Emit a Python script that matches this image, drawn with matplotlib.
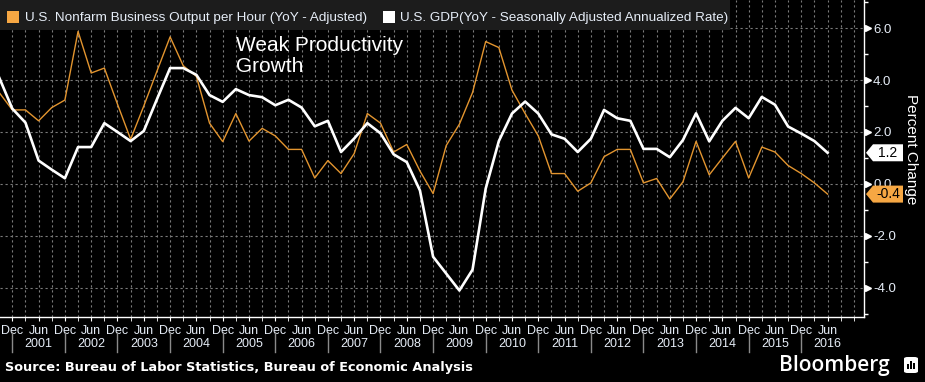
import numpy as np
import matplotlib
matplotlib.use("Agg")
import matplotlib.pyplot as plt
from matplotlib.patches import Rectangle, Polygon, FancyBboxPatch
from matplotlib.transforms import blended_transform_factory, IdentityTransform

# ---------------- data (quarterly, Sep 2000 .. Jun 2016) ----------------
quarters = [f"{y}Q{q}" for y in range(2000, 2017) for q in range(1, 5)][2:-2]
productivity = [3.52, 2.85, 2.85, 2.43, 2.94, 3.23, 5.87, 4.27, 4.46, 3.07,
                1.72, 3.00, 4.34, 5.66, 4.55, 4.14, 2.34, 1.63, 2.71, 1.65,
                2.14, 1.85, 1.33, 1.33, 0.23, 0.90, 0.40, 1.17, 2.71, 2.34,
                1.23, 1.52, 0.50, -0.37, 1.48, 2.30, 3.52, 5.48, 5.25, 3.61,
                2.71, 1.85, 0.40, 0.40, -0.28, 0.04, 1.05, 1.33, 1.33, 0.04,
                0.21, -0.58, 0.08, 1.64, 0.35, 1.00, 1.64, 0.23, 1.42, 1.23,
                0.71, 0.40, 0.04, -0.39]
gdp = [4.10, 2.90, 2.36, 0.90, 0.55, 0.22, 1.42, 1.42, 2.34, 2.00,
       1.65, 2.04, 3.26, 4.46, 4.46, 4.20, 3.42, 3.16, 3.65, 3.42,
       3.34, 3.03, 3.24, 2.94, 2.22, 2.43, 1.23, 1.75, 2.34, 1.95,
       1.14, 0.84, -0.25, -2.80, -3.45, -4.10, -3.30, -0.18, 1.65, 2.71,
       3.17, 2.71, 1.91, 1.74, 1.23, 1.74, 2.85, 2.53, 2.43, 1.35,
       1.35, 1.03, 1.69, 2.72, 1.64, 2.43, 2.93, 2.53, 3.35, 3.05,
       2.21, 1.94, 1.65, 1.20]
month_labels = ["Dec", "Jun"]
years = list(range(2001, 2017))
yticks = [-4.0, -2.0, 0.0, 2.0, 4.0, 6.0]
legend_labels = ["U.S. Nonfarm Business Output per Hour (YoY - Adjusted)",
                 "U.S. GDP(YoY - Seasonally Adjusted Annualized Rate)"]
source = "Source: Bureau of Labor Statistics, Bureau of Economic Analysis"

ORANGE_LINE = "#e3952f"
ORANGE = "#f6a743"
TXT = "#e6edf7"
GRID = "#7a7a7a"

# x index: 0 = Dec 2000
x = np.arange(len(quarters)) - 1

W, H = 925, 382
fig = plt.figure(figsize=(W / 100, H / 100), dpi=100, facecolor="black")
ax = fig.add_axes([0, 1 - 317 / H, 864 / W, 317 / H])
ax.set_facecolor("black")
ax.set_xlim(-0.935, 64.77)
ax.set_ylim(-5.12, 7.08)

# grid
for q in range(0, 65):
    ax.axvline(q, color=GRID, lw=0.8, ls=(0, (2, 2.5)), zorder=1)
for v in yticks:
    ax.axhline(v, color=GRID, lw=0.8, ls=(0, (2, 2.5)), zorder=1)

ax.plot(x, productivity, color=ORANGE_LINE, lw=1.0, zorder=3)
ax.plot(x, gdp, color="white", lw=1.9, zorder=4)

# spines
for s in ["left", "top"]:
    ax.spines[s].set_visible(False)
for s in ["right", "bottom"]:
    ax.spines[s].set_color("white")
    ax.spines[s].set_linewidth(1.0)

# y axis on right
ax.yaxis.tick_right()
ax.set_yticks(yticks)
ax.set_yticklabels([f"{v:.1f}" for v in yticks])
ax.set_yticks(np.arange(-5, 8, 1.0), minor=True)
ax.tick_params(axis="y", which="major", length=0, pad=6.5, labelsize=9.5,
               labelcolor=TXT)
ax.tick_params(axis="y", which="minor", length=3, width=1, color="white",
               direction="out")
for lab in ax.get_yticklabels():
    lab.set_fontfamily("Liberation Sans")
tri_t = blended_transform_factory(ax.transAxes, ax.transData)
ax.plot([1.0045] * len(yticks), yticks, ls="", marker=">", ms=5,
        color="white", transform=tri_t, clip_on=False, zorder=6)

ax.text(1.0 + 47 / 864, 0.53, "Percent Change", rotation=270,
        transform=ax.transAxes, ha="center", va="center", color="white",
        fontsize=11, family="Liberation Sans")

# x axis
ax.set_xticks(np.arange(0, 63, 2))
ax.set_xticklabels([month_labels[i % 2] for i in range(32)])
ax.set_xticks(np.arange(0, 65, 1), minor=True)
ax.tick_params(axis="x", which="both", length=3, color="white", pad=3,
               labelsize=9, labelcolor=TXT)
for lab in ax.get_xticklabels():
    lab.set_fontfamily("Liberation Sans")

bt = blended_transform_factory(ax.transData, ax.transAxes)
for k, yr in enumerate(years):
    ax.text(2 + 4 * k, -27 / 317, str(yr), transform=bt, ha="center",
            va="center", color=TXT, fontsize=9, family="Liberation Sans")
for k in range(len(years)):
    ax.plot([4 * k, 4 * k], [-15 / 317, -35 / 317], transform=bt,
            color="#8a8a8a", lw=1.0, clip_on=False)

# annotation
ax.text(236 / 864, 0.885, "Weak Productivity\nGrowth", transform=ax.transAxes,
        ha="left", va="top", color="white", fontsize=15,
        family="Liberation Sans", linespacing=1.1, zorder=7)

# legend bar
fig.add_artist(Rectangle((0, 1 - 30 / H), 730 / W, 30 / H,
                         transform=fig.transFigure, facecolor="#1c1c1c",
                         edgecolor="none", zorder=10))
ly = 1 - 18 / H
fig.add_artist(Rectangle((7 / W, 1 - 23 / H), 12 / W, 12 / H,
                         transform=fig.transFigure, facecolor=ORANGE,
                         edgecolor="none", zorder=11))
fig.text(25 / W, ly, legend_labels[0], color=TXT, fontsize=9.7,
         family="Liberation Sans", va="center", ha="left", zorder=11)
fig.add_artist(Rectangle((383 / W, 1 - 23 / H), 12 / W, 12 / H,
                         transform=fig.transFigure, facecolor="white",
                         edgecolor="none", zorder=11))
fig.text(400 / W, ly, legend_labels[1], color=TXT, fontsize=9.7,
         family="Liberation Sans", va="center", ha="left", zorder=11)

# value tags
fig.canvas.draw()
x0 = 866
for val, fc in [(gdp[-1], "white"), (productivity[-1], ORANGE)]:
    yc = ax.transData.transform((0, val))[1]
    pts = [(x0, yc), (x0 + 7, yc + 8.5), (x0 + 37, yc + 8.5),
           (x0 + 37, yc - 8.5), (x0 + 7, yc - 8.5)]
    fig.add_artist(Polygon(pts, closed=True, transform=IdentityTransform(),
                           facecolor=fc, edgecolor="none", zorder=12))
    fig.text((x0 + 22) / W, yc / H, f"{val:.1f}", color="black", fontsize=10,
             family="Liberation Sans", ha="center", va="center", zorder=13)

# source & logo
fig.text(5 / W, 1 - 368 / H, source, color="white", fontsize=9.3,
         fontweight="bold", family="DejaVu Sans", ha="left", va="center")
fig.text(890 / W, 1 - 365 / H, "Bloomberg", color="white", fontsize=15,
         family=["Open Sans", "DejaVu Sans"], fontweight="semibold",
         ha="right", va="center")
fig.add_artist(FancyBboxPatch((904 / W, 1 - 373 / H), 14 / W, 16 / H,
                              boxstyle="round,pad=0,rounding_size=0.004",
                              transform=fig.transFigure, facecolor="white",
                              edgecolor="none"))
for bx, bh in [(907, 5), (910, 8), (913, 6)]:
    fig.add_artist(Rectangle((bx / W, 1 - 369 / H), 2 / W, bh / H,
                             transform=fig.transFigure, facecolor="black",
                             edgecolor="none"))

fig.savefig("out.png", dpi=100, facecolor="black")
